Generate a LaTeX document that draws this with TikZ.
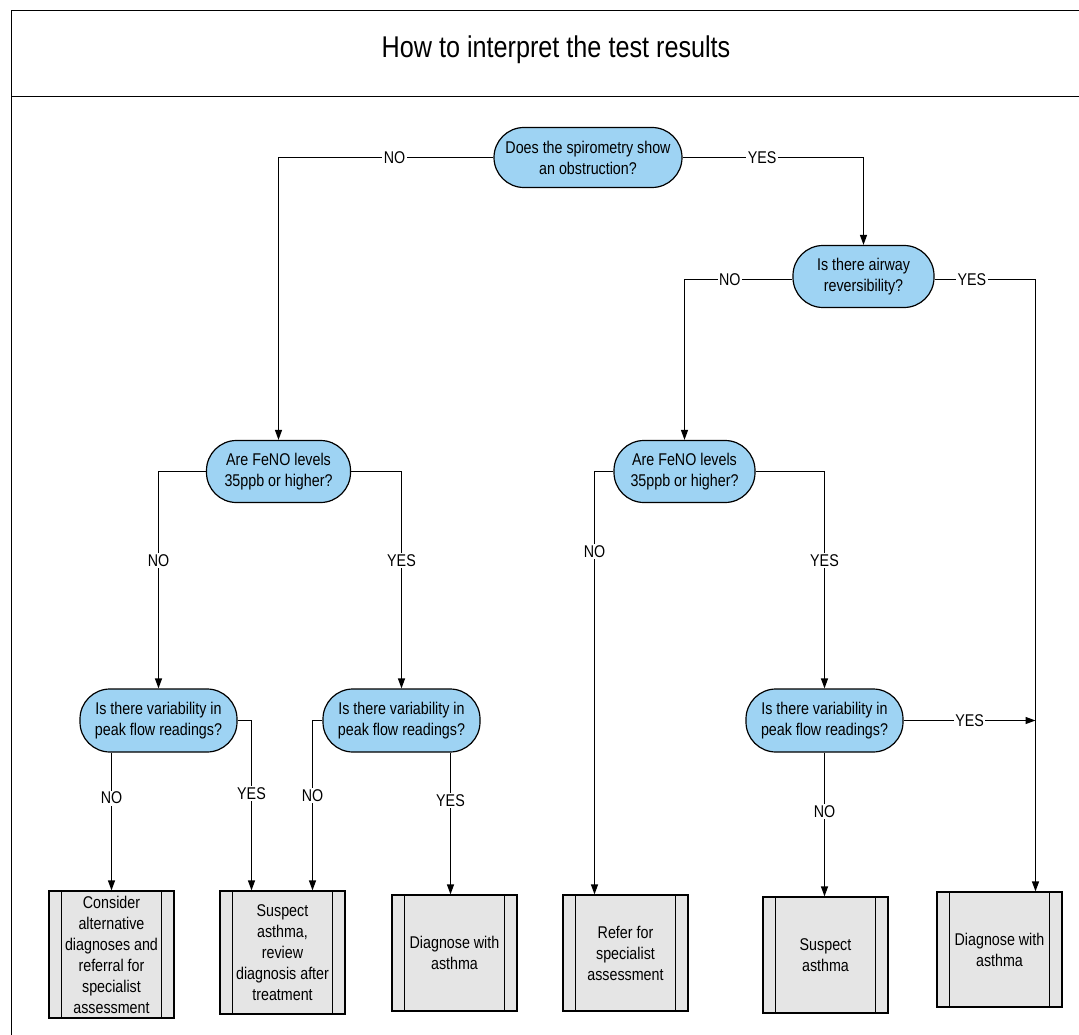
\documentclass[tikz,border=0pt]{standalone}
\usepackage{fontspec}
\setmainfont{Liberation Sans}[FakeStretch=0.84]
\usetikzlibrary{arrows.meta}
\definecolor{qblue}{RGB}{158,211,243}
\definecolor{pgray}{RGB}{229,229,229}
\begin{document}
\begin{tikzpicture}[x=1pt,y=-1pt,
  line width=1.2pt,
  question/.style={draw, fill=qblue, rounded corners=30pt, inner sep=0pt, align=center,
    font=\fontsize{17}{21}\selectfont},
  procbox/.style={draw, fill=pgray, inner sep=0pt, align=center,
    minimum width=125pt, font=\fontsize{17}{21}\selectfont},
  lbl/.style={fill=white, inner sep=1.5pt, font=\fontsize{17}{18}\selectfont},
  arr/.style={-{Triangle[length=10pt,width=7pt]}}]
\useasboundingbox (0,0) rectangle (1079,1035);
% frame
\draw (1079,10.5) -- (11.5,10.5) -- (11.5,1035);
\draw (11.5,96.5) -- (1079,96.5);
\node (title) at (556,50) {\fontsize{30}{34}\selectfont How to interpret the test results};

% questions
\node[question, minimum width=188pt, minimum height=60pt] (d1) at (588,157.5) {Does the spirometry show\\an obstruction?};
\node[question, minimum width=141pt, minimum height=62pt] (d2) at (863.5,276.5) {Is there airway\\reversibility?};
\node[question, minimum width=144pt, minimum height=62pt] (d3) at (278.5,471.5) {Are FeNO levels\\35ppb or higher?};
\node[question, minimum width=141pt, minimum height=62pt] (d4) at (684.5,471.5) {Are FeNO levels\\35ppb or higher?};
\node[question, minimum width=157pt, minimum height=63pt] (d5) at (158.5,720.5) {Is there variability in\\peak flow readings?};
\node[question, minimum width=157pt, minimum height=63pt] (d6) at (401.5,720.5) {Is there variability in\\peak flow readings?};
\node[question, minimum width=157pt, minimum height=63pt] (d7) at (824.5,720.5) {Is there variability in\\peak flow readings?};

% process boxes
\node[procbox, minimum height=127pt] (b1) at (111.5,954.5) {Consider\\alternative\\diagnoses and\\referral for\\specialist\\assessment};
\node[procbox, minimum height=123pt] (b2) at (282.5,952.5) {Suspect\\asthma,\\review\\diagnosis after\\treatment};
\node[procbox, minimum height=116pt] (b3) at (454.5,953) {Diagnose with\\asthma};
\node[procbox, minimum height=116pt] (b4) at (625.5,953) {Refer for\\specialist\\assessment};
\node[procbox, minimum height=116pt] (b5) at (825.5,955) {Suspect\\asthma};
\node[procbox, minimum height=115pt] (b6) at (999.5,949.5) {Diagnose with\\asthma};
\foreach \b in {b1,b2,b3,b4,b5,b6}{
  \draw ([xshift=13pt]\b.north west) -- ([xshift=13pt]\b.south west);
  \draw ([xshift=-13pt]\b.north east) -- ([xshift=-13pt]\b.south east);
}

% connectors
\coordinate (b6in) at ([xshift=36pt]b6.north);
\draw[arr] (d1.west) -- node[lbl,pos=0.46]{NO} (d1.west -| d3.north) -- (d3.north);
\draw[arr] (d1.east) -- node[lbl,pos=0.44]{YES} (d1.east -| d2.north) -- (d2.north);
\draw[arr] ([yshift=-3pt]d2.west) -- node[lbl,pos=0.58]{NO} ([yshift=-3pt]d2.west -| d4.north) -- (d4.north);
\draw[arr] ([yshift=-3pt]d2.east) -- node[lbl,pos=0.37]{YES} ([yshift=-3pt]d2.east -| b6in) -- (b6in);
\draw[arr] (d3.west) -- (d3.west -| d5.north) -- node[lbl,pos=0.41]{NO} (d5.north);
\draw[arr] (d3.east) -- (d3.east -| d6.north) -- node[lbl,pos=0.41]{YES} (d6.north);
\coordinate (b4in) at ([xshift=-31pt]b4.north);
\draw[arr] (d4.west) -- (d4.west -| b4in) -- node[lbl,pos=0.19]{NO} (b4in);
\draw[arr] (d4.east) -- (d4.east -| d7.north) -- node[lbl,pos=0.41]{YES} (d7.north);
\draw[arr] (b1.north |- d5.south) -- node[lbl,pos=0.33]{NO} (b1.north);
\coordinate (b2inL) at ([xshift=-31pt]b2.north);
\coordinate (b2inR) at ([xshift=30pt]b2.north);
\draw[arr] (d5.east) -- (d5.east -| b2inL) -- node[lbl,pos=0.43]{YES} (b2inL);
\draw[arr] (d6.west) -- (d6.west -| b2inR) -- node[lbl,pos=0.44]{NO} (b2inR);
\coordinate (b3in) at ([xshift=-4pt]b3.north);
\draw[arr] (b3in |- d6.south) -- node[lbl,pos=0.34]{YES} (b3in);
\coordinate (j7) at (d7.east -| b6in);
\draw[arr] (d7.east) -- node[lbl,pos=0.5]{YES} (j7);
\draw[arr] (d7.south) -- node[lbl,pos=0.41]{NO} (d7.south |- b5.north);
\end{tikzpicture}
\end{document}
